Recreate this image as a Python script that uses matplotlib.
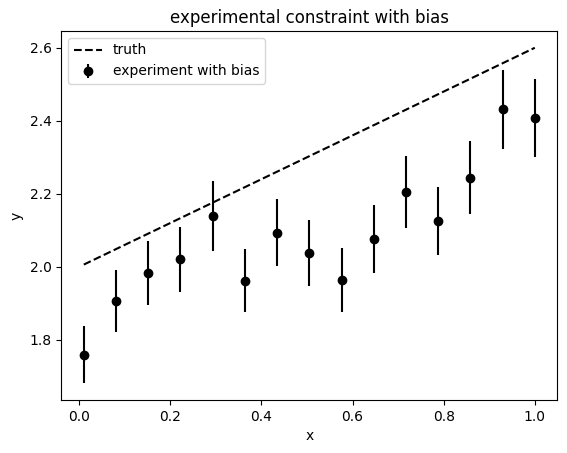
import matplotlib
matplotlib.use("Agg")
import matplotlib.pyplot as plt

# data
x = [0.01, 0.0807, 0.1514, 0.2221, 0.2929, 0.3636, 0.4343, 0.505,
     0.5757, 0.6464, 0.7171, 0.7879, 0.8586, 0.9293, 1.0]
y_meas = [1.759, 1.907, 1.983, 2.021, 2.139, 1.962, 2.093, 2.037,
          1.964, 2.076, 2.205, 2.125, 2.244, 2.432, 2.407]
y_err = [0.078, 0.085, 0.088, 0.089, 0.095, 0.087, 0.092, 0.090,
         0.087, 0.092, 0.099, 0.094, 0.100, 0.108, 0.107]
truth_x = [0.01, 1.0]
truth_y = [2.006, 2.6]

fig, ax = plt.subplots(figsize=(5.67, 4.53), dpi=100)
fig.subplots_adjust(left=0.108, right=0.983, top=0.9316, bottom=0.117)

ax.plot(truth_x, truth_y, 'k--', label='truth')
ax.errorbar(x, y_meas, yerr=y_err, fmt='o', color='k', label='experiment with bias')

ax.set_title('experimental constraint with bias')
ax.set_xlabel('x')
ax.set_ylabel('y')
ax.legend(loc='upper left')

fig.savefig('out.png', dpi=100)
